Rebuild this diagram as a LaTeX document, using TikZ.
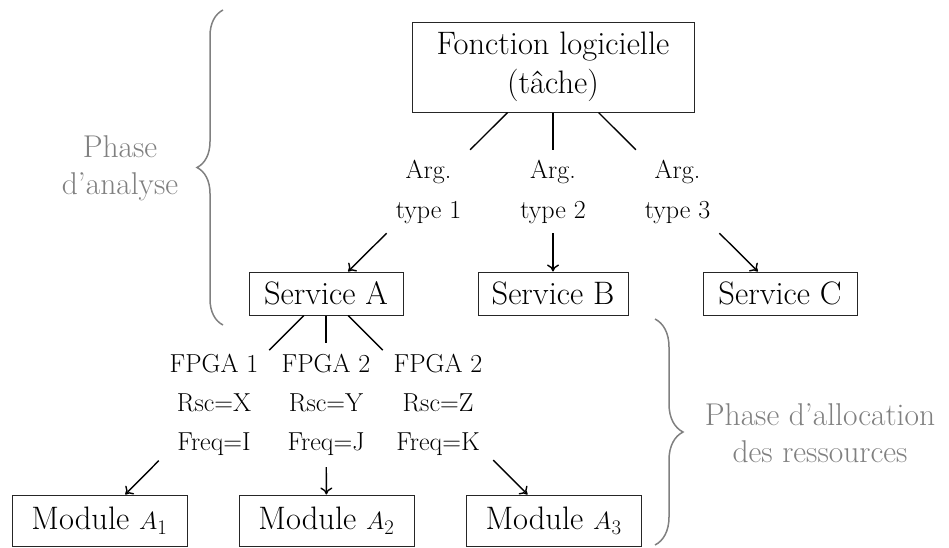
\documentclass[tikz,border=0pt]{standalone}
\usetikzlibrary{arrows.meta,decorations.pathreplacing}
\begin{document}
\begin{tikzpicture}[x=1pt,y=-1pt,
  box/.style={draw=black!85,line width=1pt,inner sep=0pt,align=center,
    font=\fontsize{32.5}{39}\selectfont},
  arglbl/.style={inner sep=0pt,minimum width=90pt,minimum height=83pt,align=center,
    font=\fontsize{26}{40}\selectfont},
  fpgalbl/.style={inner sep=0pt,minimum width=110pt,minimum height=124pt,align=center,
    font=\fontsize{26}{39}\selectfont},
  link/.style={line width=1.4pt},
  arr/.style={line width=1.4pt,-{To[length=7pt,width=12pt]}},
  phase/.style={text=black!50,align=center,font=\fontsize{31.5}{37}\selectfont},
  bracket/.style={draw=black!50,line width=1.5pt,decorate}
]
\useasboundingbox (0,0) rectangle (949,547);

% boxes
\node[box,minimum width=282pt,minimum height=90pt] (top) at (553,67) {Fonction logicielle\\(tâche)};
\node[box,minimum width=154pt,minimum height=43pt] (sa) at (326,293.5) {Service A};
\node[box,minimum width=150pt,minimum height=43pt] (sb) at (553,293.5) {Service B};
\node[box,minimum width=154pt,minimum height=43pt] (sc) at (780,293.5) {Service C};
\node[box,minimum width=175pt,minimum height=51pt] (ma) at (99.5,520.5) {Module $A_1$};
\node[box,minimum width=175pt,minimum height=51pt] (mb) at (326.5,520.5) {Module $A_2$};
\node[box,minimum width=175pt,minimum height=51pt] (mc) at (553.5,520.5) {Module $A_3$};

% edge labels
\node[arglbl] (l1) at (428.5,191.5) {Arg.\\type 1};
\node[arglbl] (l2) at (553,191.5) {Arg.\\type 2};
\node[arglbl] (l3) at (677.5,191.5) {Arg.\\type 3};
\node[fpgalbl] (f1) at (214,405) {FPGA 1\\Rsc=X\\Freq=I};
\node[fpgalbl] (f2) at (326,405) {FPGA 2\\Rsc=Y\\Freq=J};
\node[fpgalbl] (f3) at (438,405) {FPGA 2\\Rsc=Z\\Freq=K};

% connectors
\draw[link] (top) -- (l1);
\draw[link] (top) -- (l2);
\draw[link] (top) -- (l3);
\draw[arr] (l1) -- (sa);
\draw[arr] (l2) -- (sb);
\draw[arr] (l3) -- (sc);
\draw[link] (sa) -- (f1);
\draw[link] (sa) -- (f2);
\draw[link] (sa) -- (f3);
\draw[arr] (f1) -- (ma);
\draw[arr] (f2) -- (mb);
\draw[arr] (f3) -- (mc);

% phases
\coordinate (b1s) at (223,325);
\coordinate (b1e) at (223,10);
\coordinate (b2s) at (655,319);
\coordinate (b2e) at (655,545);
\draw[bracket,decoration={brace,amplitude=26pt}] (b1s) -- (b1e);
\draw[bracket,decoration={brace,amplitude=28pt}] (b2s) -- (b2e);
\node[phase] (pa) at (120,168) {Phase\\d'analyse};
\node[phase] (pr) at (820,433) {Phase d'allocation\\des ressources};
\end{tikzpicture}
\end{document}
